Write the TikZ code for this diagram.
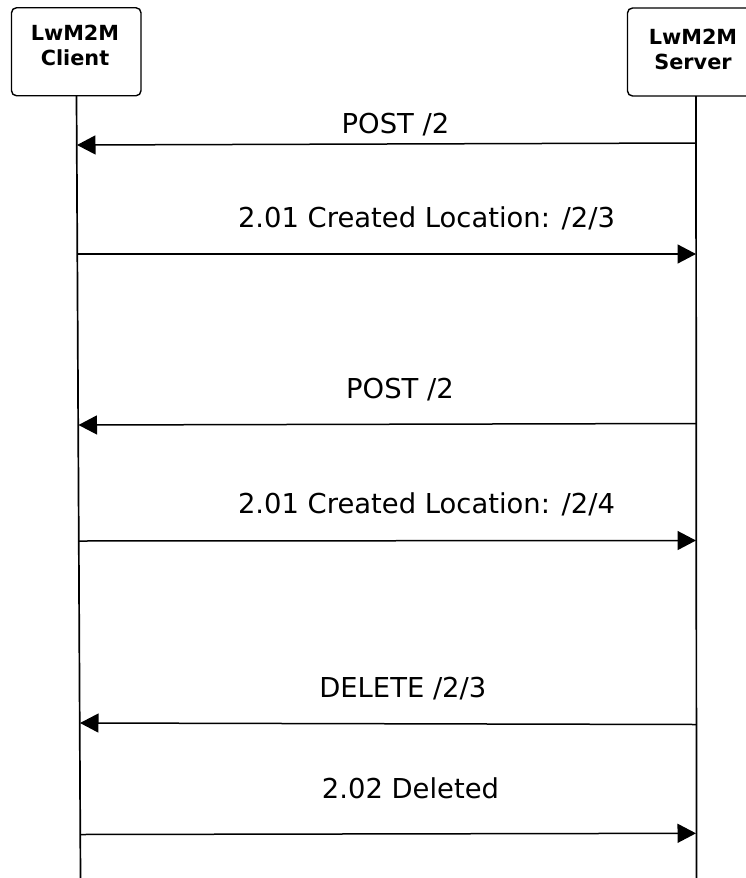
\documentclass[tikz,border=0pt]{standalone}
\usepackage{fontspec}
\setmainfont{DejaVu Sans}
\usetikzlibrary{arrows.meta}
\begin{document}
\begin{tikzpicture}[x=1pt,y=-1pt,
  headbox/.style={draw, line width=1.4pt, rounded corners=5pt, inner sep=0pt},
  headtext/.style={inner sep=0pt, align=center, font=\bfseries\fontsize{20.8pt}{25pt}\selectfont},
  lifeline/.style={line width=1.7pt},
  msg/.style={line width=1.5pt, -{Triangle[length=18.5pt,width=19pt]}},
  msglabel/.style={inner sep=0pt, anchor=base, font=\fontsize{27.4pt}{32pt}\selectfont}]
\useasboundingbox (0,0) rectangle (746,878);
% participants
\node[headbox, minimum width=129.5pt, minimum height=88pt] (client) at (76.25,51.75) {};
\node[headtext] (clientt) at (75,45.7) {LwM2M\\Client};
\node[headbox, minimum width=131pt, minimum height=88pt] (server) at (693,52) {};
\node[headtext] (servert) at (693,49.3) {LwM2M\\Server};
% lifeline ends
\coordinate (ctop) at (76.5,96);
\coordinate (cbot) at (80.5,878);
\coordinate (stop) at (696,96);
\coordinate (sbot) at (696.5,878);
\draw[lifeline] (ctop) -- (cbot);
\draw[lifeline] (stop) -- (sbot);
% message end points
\coordinate (s1) at (696,143);   \coordinate (c1) at (77,145);
\coordinate (c2) at (77.5,254);  \coordinate (s2) at (696,254);
\coordinate (s3) at (696,423.5); \coordinate (c3) at (78.5,425);
\coordinate (c4) at (79,541);    \coordinate (s4) at (696,540.5);
\coordinate (s5) at (696,724.5); \coordinate (c5) at (80,723);
\coordinate (c6) at (80.5,834.5);\coordinate (s6) at (696,833.3);
\draw[msg] (s1) -- (c1);
\draw[msg] (c2) -- (s2);
\draw[msg] (s3) -- (c3);
\draw[msg] (c4) -- (s4);
\draw[msg] (s5) -- (c5);
\draw[msg] (c6) -- (s6);
% labels
\node[msglabel] (l1) at (395.5,133) {POST /2};
\node[msglabel] (l2) at (426.5,227.7) {2.01 Created Location: /2/3};
\node[msglabel] (l3) at (400,398.3) {POST /2};
\node[msglabel] (l4) at (426.5,513.3) {2.01 Created Location: /2/4};
\node[msglabel] (l5) at (402.8,697) {DELETE /2/3};
\node[msglabel] (l6) at (410.5,798.3) {2.02 Deleted};
\end{tikzpicture}
\end{document}
